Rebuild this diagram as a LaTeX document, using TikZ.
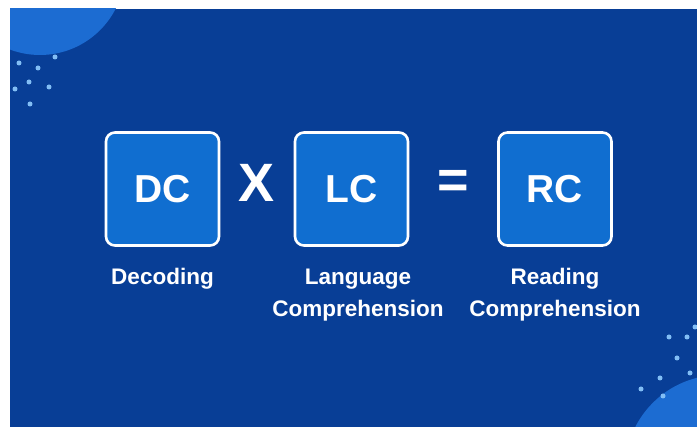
\documentclass[tikz,border=0pt]{standalone}
\usepackage{fontspec}
\setmainfont{Liberation Sans}
\definecolor{navy}{RGB}{8,62,150}
\definecolor{boxblue}{RGB}{16,110,208}
\definecolor{blobblue}{RGB}{28,108,210}
\definecolor{dotblue}{RGB}{130,190,245}

\begin{document}
\begin{tikzpicture}[x=1pt,y=-1pt,
term/.style={draw=white,line width=2.6pt,rounded corners=9pt,fill=boxblue,minimum width=113pt,minimum height=113pt,text=white,inner sep=0pt,font=\bfseries\fontsize{39}{42}\selectfont},
oper/.style={text=white,inner sep=0pt,font=\bfseries\fontsize{54}{58}\selectfont},
termlabel/.style={text=white,inner sep=0pt,align=center,anchor=base,font=\bfseries\fontsize{22.5}{32}\selectfont},
spark/.style={fill=dotblue,draw=none}]
\useasboundingbox (0,0) rectangle (697,427);
\fill[white] (0,0) rectangle (697,427);
\fill[navy] (10,9) rectangle (697,427);
% corner blobs and sparkles
\begin{scope}
\clip (10,9) rectangle (697,427);
\fill[blobblue] (40,-30) circle[radius=85pt];
\fill[blobblue] (720,470) circle[radius=95pt];
\end{scope}
\foreach \x/\y in {55/57,19/63,38/68,29/82,49/87,15/89,30/104}
  \fill[spark] (\x,\y) circle[radius=2.5pt];
\foreach \x/\y in {669/337,687/337,677/358,690/373,660/378,641/389,663/396,695/327}
  \fill[spark] (\x,\y) circle[radius=2.5pt];
% the three terms
\node[term] (dc) at (162.5,189) {DC};
\node[term] (lc) at (351.5,189) {LC};
\node[term] (rc) at (555,189) {RC};
\node[oper] (times) at (257,183) {X};
\node[oper] (equals) at (453,184) {=};
\node[termlabel] (dclabel) at (162.5,285) {Decoding};
\node[termlabel] (lclabel) at (358,317) {Language\\Comprehension};
\node[termlabel] (rclabel) at (555,317) {Reading\\Comprehension};
\end{tikzpicture}
\end{document}
